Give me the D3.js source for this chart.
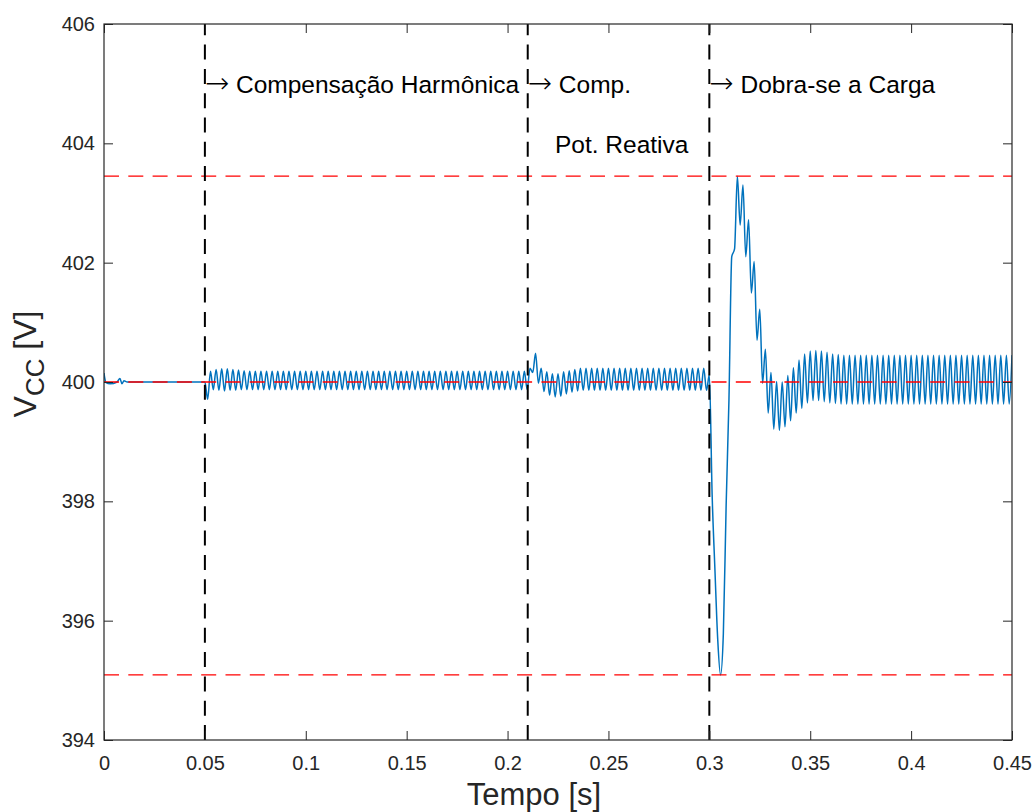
<!DOCTYPE html>
<html>
<head>
<meta charset="utf-8">
<script src="https://cdn.jsdelivr.net/npm/d3@7"></script>
<style>
  html, body { margin: 0; padding: 0; background: #fff; }
  svg { display: block; }
  text { font-family: "Liberation Sans", Arial, Helvetica, sans-serif; }
</style>
</head>
<body>
<svg id="chart" width="1032" height="812"></svg>
<script>
// ---- Data -------------------------------------------------------------
// DC-link voltage during start-up (explicit time stamps, seconds)
const startupTime = [0, 0.0004, 0.001, 0.003, 0.0065, 0.0079, 0.0089, 0.0099, 0.0115, 0.05];
const startupVcc  = [400.15, 400.06, 399.99, 399.97, 400.00, 400.06, 399.97, 400.02, 400.00, 400.00];

// From t = 0.05 s on, samples are taken at every peak / trough of the 360 Hz ripple
const sampleStart = 0.05;
const halfPeriod = 1 / 720;

// 0.05 s – 0.21 s : harmonic compensation
const harmonicVcc = [
  400.00, 399.71, 400.18, 399.87, 400.21, 399.86, 400.22, 399.85, 400.22, 399.86,
  400.21, 399.86, 400.20, 399.87, 400.19, 399.87, 400.18, 399.87, 400.18, 399.87,
  400.18, 399.87, 400.18, 399.87, 400.18, 399.87, 400.18, 399.87, 400.18, 399.87,
  400.18, 399.87, 400.18, 399.87, 400.18, 399.87, 400.18, 399.87, 400.18, 399.87,
  400.18, 399.87, 400.18, 399.87, 400.18, 399.87, 400.18, 399.87, 400.18, 399.87,
  400.18, 399.87, 400.18, 399.87, 400.18, 399.87, 400.18, 399.87, 400.18, 399.87,
  400.18, 399.87, 400.18, 399.87, 400.18, 399.87, 400.18, 399.87, 400.18, 399.87,
  400.18, 399.87, 400.18, 399.87, 400.18, 399.87, 400.18, 399.87, 400.18, 399.87,
  400.18, 399.87, 400.18, 399.87, 400.18, 399.87, 400.18, 399.87, 400.18, 399.87,
  400.18, 399.87, 400.18, 399.87, 400.18, 399.87, 400.18, 399.87, 400.18, 399.87,
  400.18, 399.87, 400.18, 399.87, 400.18, 399.87, 400.18, 399.87, 400.18, 399.87,
  400.18, 399.87, 400.18, 399.87, 400.18
];

// 0.21 s – 0.30 s : reactive power compensation added
const reactiveVcc = [
  399.87, 400.23, 400.16, 400.48, 399.98, 400.23, 399.84, 400.17, 399.78, 400.14,
  399.75, 400.14, 399.76, 400.17, 399.80, 400.19, 399.83, 400.21, 399.85, 400.23,
  399.86, 400.23, 399.86, 400.23, 399.86, 400.23, 399.86, 400.23, 399.86, 400.23,
  399.86, 400.23, 399.86, 400.23, 399.86, 400.23, 399.86, 400.23, 399.86, 400.23,
  399.86, 400.23, 399.86, 400.23, 399.86, 400.23, 399.86, 400.23, 399.86, 400.23,
  399.86, 400.23, 399.86, 400.23, 399.86, 400.23, 399.86, 400.23, 399.86, 400.23,
  399.86, 400.23, 399.86, 400.23, 399.86
];

// 0.30 s – 0.45 s : load doubled
const loadStepVcc = [
  400.12, 398.11, 396.85, 395.68, 395.09, 395.78, 397.94, 399.70, 402.10, 402.23,
  403.45, 402.63, 403.30, 402.10, 402.72, 401.49, 402.02, 400.70, 401.22, 399.98,
  400.55, 399.48, 400.16, 399.21, 400.01, 399.19, 400.00, 399.25, 400.11, 399.35,
  400.24, 399.48, 400.37, 399.56, 400.47, 399.65, 400.52, 399.69, 400.53, 399.69,
  400.52, 399.67, 400.50, 399.65, 400.47, 399.64, 400.46, 399.63, 400.45, 399.63,
  400.45, 399.63, 400.45, 399.63, 400.45, 399.63, 400.45, 399.63, 400.45, 399.63,
  400.45, 399.63, 400.45, 399.63, 400.45, 399.63, 400.45, 399.63, 400.45, 399.63,
  400.45, 399.63, 400.45, 399.63, 400.45, 399.63, 400.45, 399.63, 400.45, 399.63,
  400.45, 399.63, 400.45, 399.63, 400.45, 399.63, 400.45, 399.63, 400.45, 399.63,
  400.45, 399.63, 400.45, 399.63, 400.45, 399.63, 400.45, 399.63, 400.45, 399.63,
  400.45, 399.63, 400.45, 399.63, 400.45, 399.63, 400.45, 399.63, 400.45
];

// Limits of the excursion (horizontal red dashed lines) and the reference level
const limitLevels = [403.45, 395.09];
const referenceLevel = 400;
// Event instants (vertical black dashed lines)
const eventTimes = [0.05, 0.21, 0.30];

// Annotations: [time, voltage, text, arrow?]
const annotations = [
  [0.05,   405, "Compensação Harmônica", true],
  [0.21,   405, "Comp.", true],
  [0.2235, 404, "Pot. Reativa", false],
  [0.30,   405, "Dobra-se a Carga", true]
];

const xTicks = [0, 0.05, 0.1, 0.15, 0.2, 0.25, 0.3, 0.35, 0.4, 0.45];
const yTicks = [394, 396, 398, 400, 402, 404, 406];
const xTickLabels = ["0", "0.05", "0.1", "0.15", "0.2", "0.25", "0.3", "0.35", "0.4", "0.45"];

// ---- Assemble the time series ----------------------------------------
const series = startupTime.map((t, i) => ({ t, v: startupVcc[i] }));
harmonicVcc.concat(reactiveVcc, loadStepVcc).forEach((v, k) => {
  series.push({ t: sampleStart + k * halfPeriod, v });
});

// ---- Layout ------------------------------------------------------------
const W = 1032, H = 812;
const m = { left: 104, top: 24, right: 20, bottom: 72 };
const pw = W - m.left - m.right;   // 908
const ph = H - m.top - m.bottom;   // 716

const svg = d3.select("#chart");
svg.append("rect").attr("width", W).attr("height", H).attr("fill", "#fff");

const g = svg.append("g").attr("transform", `translate(${m.left},${m.top})`);

const x = d3.scaleLinear().domain([0, 0.45]).range([0, pw]);
const y = d3.scaleLinear().domain([394, 406]).range([ph, 0]);

g.append("clipPath").attr("id", "plot-clip")
  .append("rect").attr("width", pw).attr("height", ph);

const plot = g.append("g").attr("clip-path", "url(#plot-clip)");

// Voltage trace
const line = d3.line()
  .x(d => x(d.t))
  .y(d => y(d.v))
  .curve(d3.curveMonotoneX);

plot.append("path")
  .datum(series)
  .attr("fill", "none")
  .attr("stroke", "#0072BD")
  .attr("stroke-width", 1.5)
  .attr("stroke-linejoin", "round")
  .attr("d", line);

// Limit lines and reference level
plot.selectAll(".limit")
  .data(limitLevels.concat([referenceLevel]))
  .join("line")
  .attr("x1", x(0)).attr("x2", x(0.45))
  .attr("y1", d => y(d)).attr("y2", d => y(d))
  .attr("stroke", "#FF0000")
  .attr("stroke-width", 1.3)
  .attr("stroke-dasharray", "15,9.3");

// Event lines (drawn bottom to top)
plot.selectAll(".event")
  .data(eventTimes)
  .join("line")
  .attr("x1", d => x(d)).attr("x2", d => x(d))
  .attr("y1", y(394)).attr("y2", y(406))
  .attr("stroke", "#000")
  .attr("stroke-width", 2)
  .attr("stroke-dasharray", "15,9.3");

// ---- Axes (ticks inside, mirrored on top and right) -------------------
const tickLen = 9;
const axisColor = "#262626";

function styleAxis(sel, withLabels) {
  sel.select(".domain").remove();
  sel.selectAll(".tick line").attr("stroke", axisColor).attr("stroke-width", 1);
  sel.selectAll(".tick text")
    .attr("fill", axisColor)
    .style("font-size", "20px")
    .style("font-family", '"Liberation Sans", Arial, Helvetica, sans-serif');
  if (!withLabels) sel.selectAll(".tick text").remove();
}

g.append("g").attr("transform", `translate(0,${ph})`)
  .call(d3.axisBottom(x).tickValues(xTicks).tickFormat((d, i) => xTickLabels[i])
        .tickSizeInner(-tickLen).tickSizeOuter(0).tickPadding(16))
  .call(s => styleAxis(s, true));

g.append("g")
  .call(d3.axisTop(x).tickValues(xTicks).tickSizeInner(-tickLen).tickSizeOuter(0))
  .call(s => styleAxis(s, false));

g.append("g")
  .call(d3.axisLeft(y).tickValues(yTicks).tickFormat(d3.format("d"))
        .tickSizeInner(-tickLen).tickSizeOuter(0).tickPadding(9))
  .call(s => styleAxis(s, true));

g.append("g").attr("transform", `translate(${pw},0)`)
  .call(d3.axisRight(y).tickValues(yTicks).tickSizeInner(-tickLen).tickSizeOuter(0))
  .call(s => styleAxis(s, false));

// Box
g.append("rect")
  .attr("width", pw).attr("height", ph)
  .attr("fill", "none")
  .attr("stroke", axisColor)
  .attr("stroke-width", 1.2);

// ---- Annotations -------------------------------------------------------
annotations.forEach(([t, v, label, arrow]) => {
  const txt = g.append("text")
    .attr("x", x(t))
    .attr("y", y(v))
    .attr("dy", "0.39em")
    .attr("fill", "#000")
    .style("font-size", "24.5px");
  if (arrow) {
    txt.append("tspan")
      .style("font-family", '"DejaVu Sans", sans-serif')
      .style("font-weight", "200")
      .style("font-size", "29px")
      .text("\u2192");
    txt.append("tspan").text(" " + label);
  } else {
    txt.text(label);
  }
});

// ---- Axis labels -------------------------------------------------------
g.append("text")
  .attr("x", 430)
  .attr("y", ph + 65)
  .attr("text-anchor", "middle")
  .attr("fill", axisColor)
  .style("font-size", "31px")
  .text("Tempo [s]");

const yl = svg.append("text")
  .attr("transform", "translate(36,364) rotate(-90)")
  .attr("text-anchor", "middle")
  .attr("fill", axisColor)
  .style("font-size", "32px");
yl.append("tspan").text("V");
yl.append("tspan").attr("dy", 8).style("font-size", "26px").text("CC");
yl.append("tspan").attr("dy", -8).text(" [V]");
</script>
</body>
</html>
